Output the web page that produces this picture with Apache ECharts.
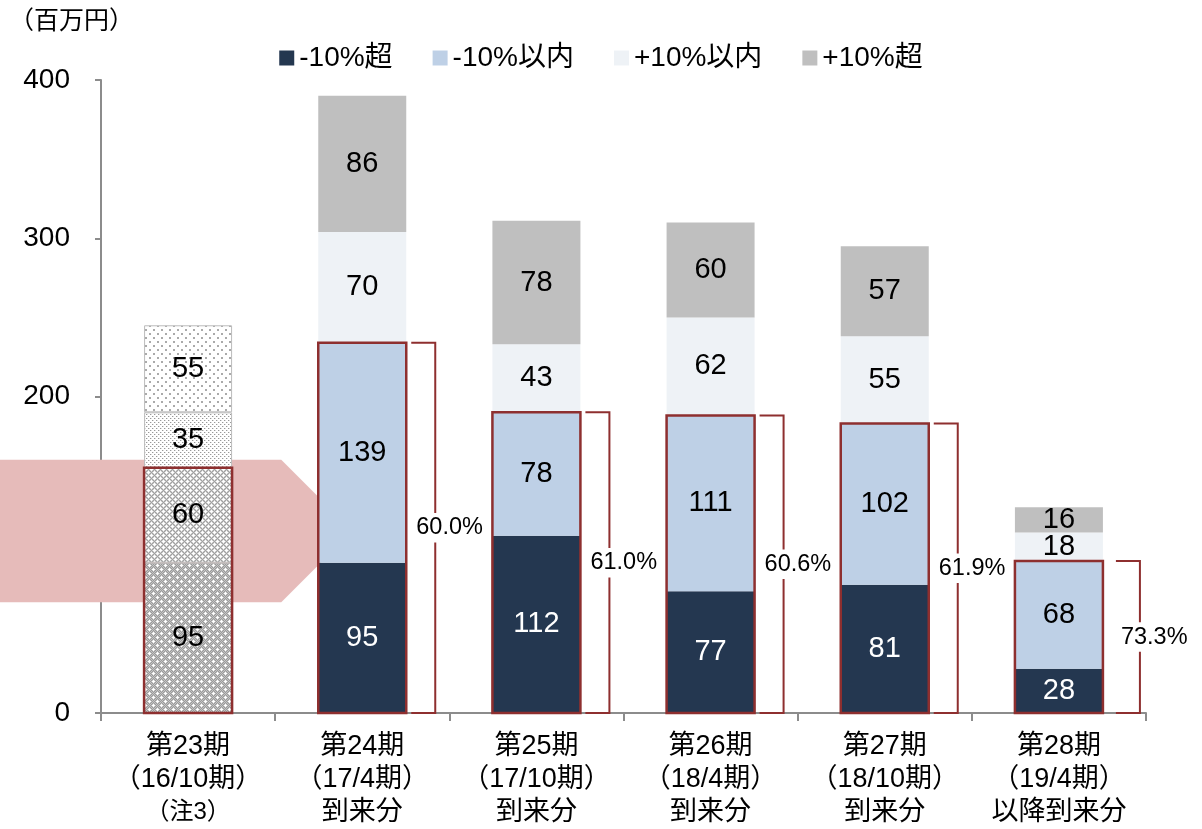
<!DOCTYPE html>
<html>
<head>
<meta charset="utf-8">
<script src="https://cdn.jsdelivr.net/npm/echarts@6/dist/echarts.min.js"></script>
<style>html,body{margin:0;padding:0;background:#fff}#c{width:1202px;height:829px}</style>
</head>
<body>
<div id="c"></div>
<script>
// ---- data ----
var categories = ['第23期\n（16/10期）\n（注3）', '第24期\n（17/4期）\n到来分', '第25期\n（17/10期）\n到来分', '第26期\n（18/4期）\n到来分', '第27期\n（18/10期）\n到来分', '第28期\n（19/4期）\n以降到来分'];
var seriesNames = ['-10%超', '-10%以内', '+10%以内', '+10%超'];
var overMinus10 = [95, 95, 112, 77, 81, 28];
var withinMinus10 = [60, 139, 78, 111, 102, 68];
var withinPlus10 = [35, 70, 43, 62, 55, 18];
var overPlus10 = [55, 86, 78, 60, 57, 16];
var pctLabels = ['', '60.0%', '61.0%', '60.6%', '61.9%', '73.3%'];
var yTicks = [0, 100, 200, 300, 400];
var arrowRange = [70, 160];

var FONT = '"Liberation Sans", Arial, "Noto Sans CJK JP", sans-serif';
var RED = '#8E2F2F';
var colors = ['#243750', '#BED0E6', '#EEF2F6', '#BFBFBF'];

function makePattern(size, bgFn, dots) {
  var cv = document.createElement('canvas');
  cv.width = size; cv.height = size;
  var ctx = cv.getContext('2d');
  for (var y = 0; y < size; y++) for (var x = 0; x < size; x++) {
    ctx.fillStyle = bgFn(x, y);
    ctx.fillRect(x, y, 1, 1);
  }
  dots.forEach(function (d) {
    ctx.fillStyle = d[2];
    ctx.fillRect(d[0], d[1], d[3] || 1, d[3] || 1);
  });
  return { image: cv, repeat: 'repeat' };
}
function plus(x, y, c) { return [[x, y, c], [x - 1, y, c], [x + 1, y, c], [x, y - 1, c], [x, y + 1, c]]; }

var p95 = makePattern(8, function (x, y) { return (x + y) % 2 ? '#9a9a9a' : '#c4c4c4'; },
  [].concat(plus(1, 1, '#ffffff'), plus(5, 5, '#ffffff')));
var p60 = makePattern(6, function (x, y) { return (x + y) % 2 ? '#a0a0a0' : '#cfcfcf'; },
  [].concat(plus(1, 1, '#ffffff'), plus(4, 4, '#ffffff')));
var p35 = makePattern(4, function () { return '#ffffff'; },
  [[0, 0, '#999999'], [2, 2, '#999999'], [1, 0, '#dddddd'], [3, 2, '#dddddd']]);
var p55 = makePattern(8, function () { return '#ffffff'; },
  [[1, 1, '#aaaaaa', 2], [5, 5, '#aaaaaa', 2]]);
var patterns = [p95, p60, p35, p55];

var allVals = [overMinus10, withinMinus10, withinPlus10, overPlus10];

var chart = echarts.init(document.getElementById('c'), null, { renderer: 'canvas' });

var barSeries = allVals.map(function (arr, si) {
  return {
    name: seriesNames[si],
    type: 'bar',
    stack: 'total',
    barWidth: 88,
    z: 3,
    itemStyle: { color: colors[si] },
    label: {
      show: true, position: 'inside', fontSize: 29, fontFamily: FONT,
      color: si === 0 ? '#ffffff' : '#000000'
    },
    emphasis: { disabled: true },
    data: arr.map(function (v, ci) {
      if (ci === 0) {
        return {
          value: v,
          itemStyle: { color: patterns[si], borderColor: '#bbbbbb', borderWidth: 1 },
          label: { color: '#000000' }
        };
      }
      return v;
    })
  };
});

var boxData = categories.map(function (c, i) { return [i, overMinus10[i] + withinMinus10[i], pctLabels[i]]; });

var overlaySeries = {
  type: 'custom',
  z: 10,
  silent: true,
  clip: false,
  data: boxData,
  renderItem: function (params, api) {
    var i = api.value(0);
    var top = api.coord([i, api.value(1)]);
    var base = api.coord([i, 0]);
    var half = 44;
    var children = [{
      type: 'rect',
      shape: { x: top[0] - half, y: top[1], width: half * 2, height: base[1] - top[1] },
      style: { fill: null, stroke: RED, lineWidth: 2.5 }
    }];
    if (boxData[params.dataIndex][2]) {
      var R = top[0] + half;
      var extra = params.dataIndex === categories.length - 1 ? 8 : 0;
      var vx = R + 29 + extra;
      children.push({
        type: 'polyline',
        shape: { points: [[R + 5 + extra, top[1]], [vx, top[1]], [vx, base[1]], [R + 5 + extra, base[1]]] },
        style: { fill: null, stroke: RED, lineWidth: 2 }
      });
      children.push({
        type: 'text',
        style: {
          text: boxData[params.dataIndex][2], x: vx - 19, y: (top[1] + base[1]) / 2,
          align: 'left', verticalAlign: 'middle', fontSize: 23.5, fontFamily: FONT,
          fill: '#000', backgroundColor: '#ffffff', padding: [3, 0]
        }
      });
    }
    return { type: 'group', children: children };
  }
};

var arrowSeries = {
  type: 'custom',
  z: 1,
  silent: true,
  clip: false,
  data: [[0, arrowRange[0], arrowRange[1]]],
  renderItem: function (params, api) {
    var lo = api.coord([1, api.value(1)]);
    var hi = api.coord([1, api.value(2)]);
    var nextLeft = lo[0] - 44;
    var xs = nextLeft - 37;
    var h = lo[1] - hi[1];
    return {
      type: 'polygon',
      shape: { points: [[0, hi[1]], [xs, hi[1]], [xs + h / 2, hi[1] + h / 2], [xs, lo[1]], [0, lo[1]]] },
      style: { fill: '#E6BBBA' }
    };
  }
};

chart.setOption({
  animation: false,
  backgroundColor: '#ffffff',
  textStyle: { fontFamily: FONT },
  title: {
    text: '（百万円）', left: 4, top: 5,
    textStyle: { fontSize: 25, fontWeight: 'normal', color: '#000', fontFamily: FONT }
  },
  legend: {
    data: seriesNames, top: 39, left: 'center', icon: 'rect',
    itemWidth: 15, itemHeight: 15, itemGap: 40,
    textStyle: { fontSize: 28, color: '#000', fontFamily: FONT },
    selectedMode: false
  },
  grid: { left: 101, right: 56, top: 80, bottom: 116, containLabel: false },
  xAxis: {
    type: 'category', data: categories,
    axisLine: { lineStyle: { color: '#8c8c8c', width: 2 } },
    axisTick: { show: true, length: 8, lineStyle: { color: '#8c8c8c', width: 2 } },
    axisLabel: {
      interval: 0, margin: 17,
      formatter: function (v) {
        return v.split('\n').map(function (l) { return l.indexOf('注') >= 0 ? '{s|' + l + '}' : '{a|' + l + '}'; }).join('\n');
      },
      rich: {
        a: { fontSize: 27, lineHeight: 33, color: '#000', fontFamily: FONT },
        s: { fontSize: 24, lineHeight: 33, color: '#000', fontFamily: FONT }
      }
    }
  },
  yAxis: {
    type: 'value', min: yTicks[0], max: yTicks[yTicks.length - 1], interval: 100,
    axisLine: { show: true, lineStyle: { color: '#8c8c8c', width: 2 } },
    axisTick: { show: true, length: 6, lineStyle: { color: '#8c8c8c', width: 2 } },
    splitLine: { show: false },
    axisLabel: { fontSize: 28, color: '#000', margin: 31, fontFamily: FONT }
  },
  series: [arrowSeries].concat(barSeries).concat([overlaySeries])
});
</script>
</body>
</html>
